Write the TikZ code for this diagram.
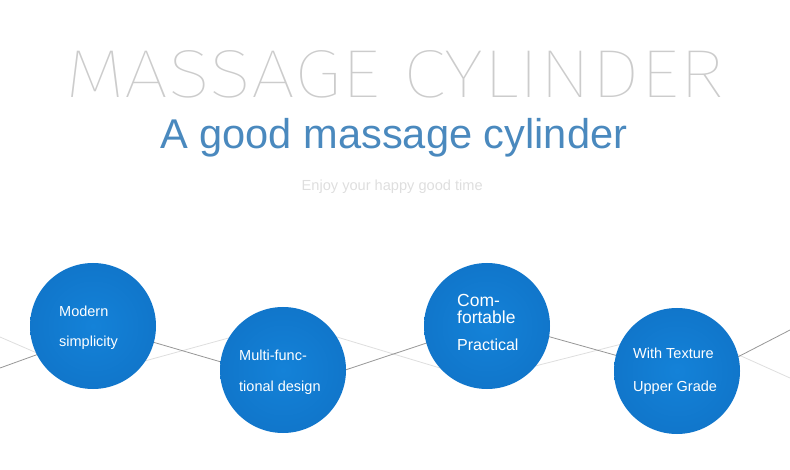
\documentclass[tikz,border=0pt]{standalone}
\usepackage{fontspec}
\usepackage{tikz}
\setmainfont{Liberation Sans}
\IfFontExistsTF{Fira Sans Hair}{\newfontfamily\hairfont{Fira Sans Hair}}{%
  \IfFontExistsTF{Fira Sans Thin}{\newfontfamily\hairfont{Fira Sans Thin}}{%
    \IfFontExistsTF{Lato Hairline}{\newfontfamily\hairfont{Lato Hairline}}{%
      \IfFontExistsTF{Fira Sans Light}{\newfontfamily\hairfont{Fira Sans Light}}{%
        \IfFontExistsTF{Lato Light}{\newfontfamily\hairfont{Lato Light}}{%
          \newfontfamily\hairfont{Liberation Sans}}}}}}
\definecolor{ballin}{RGB}{20,130,216}
\definecolor{ballout}{RGB}{10,96,178}
\definecolor{subblue}{RGB}{74,137,190}
\definecolor{darkline}{RGB}{150,150,150}
\definecolor{lightline}{RGB}{222,222,222}
\pgfdeclareradialshading{ballshade}{\pgfpoint{0bp}{0bp}}{color(0bp)=(ballin); color(25bp)=(ballin!65!ballout); color(50bp)=(ballout)}

\begin{document}
\begin{tikzpicture}[x=1pt, y=-1pt,
    ball/.style={circle, shading=ballshade, minimum size=126pt, inner sep=0pt},
    balltext/.style={anchor=base west, inner sep=0pt, text=white, font=\fontsize{14.5}{17}\selectfont}]
        \useasboundingbox (0,0) rectangle (790,470);

        % Line corners
        \coordinate (d0) at (0, 368);
        \coordinate (d1) at (108, 329);
        \coordinate (d2) at (300, 385);
        \coordinate (d3) at (493, 321);
        \coordinate (d4) at (697, 378);
        \coordinate (d5) at (790, 330);
        \coordinate (l0) at (0, 337);
        \coordinate (l1) at (90, 376);
        \coordinate (l2) at (287, 322);
        \coordinate (l3) at (480, 380);
        \coordinate (l4) at (681, 329);
        \coordinate (l5) at (790, 378);

        % Lines
        \draw[lightline, line width=0.8pt] (l0) -- (l1) -- (l2) -- (l3) -- (l4) -- (l5);
        \draw[darkline, line width=0.8pt] (d0) -- (d1) -- (d2) -- (d3) -- (d4) -- (d5);

        % Headings
        \node[anchor=base, inner sep=0pt, text=black!20, font=\hairfont\fontsize{68}{70}\selectfont] (title) at (394.5, 98) {\scalebox{1.153}[1]{MASSAGE CYLINDER}};
        \node[anchor=base west, inner sep=0pt, text=subblue, font=\fontsize{41.6}{45}\selectfont] (subtitle) at (160, 149) {A good massage cylinder};
        \node[anchor=base west, inner sep=0pt, text=black!13, font=\fontsize{14.6}{16}\selectfont] (slogan) at (301.5, 190.5) {Enjoy your happy good time};

        % Circles
        \node[ball] (modern) at (93, 326) {};
        \node[ball] (multi) at (283, 370) {};
        \node[ball] (comfort) at (487, 326) {};
        \node[ball] (texture) at (677, 371) {};

        % Circle texts
        \node[balltext] (modernA) at (59, 316.5) {Modern};
        \node[balltext] (modernB) at (59, 347) {simplicity};
        \node[balltext] (multiA) at (239, 360) {Multi-func-};
        \node[balltext] (multiB) at (239, 391) {tional design};
        \node[balltext, font=\fontsize{17.5}{18}\selectfont] (comfortA) at (457, 307) {Com-};
        \node[balltext, font=\fontsize{17.5}{18}\selectfont] (comfortB) at (457, 324) {fortable};
        \node[balltext, font=\fontsize{16}{18}\selectfont] (comfortC) at (457, 351) {Practical};
        \node[balltext] (textureA) at (633, 359) {With Texture};
        \node[balltext] (textureB) at (633, 391.5) {Upper Grade};
    \end{tikzpicture}
\end{document}
